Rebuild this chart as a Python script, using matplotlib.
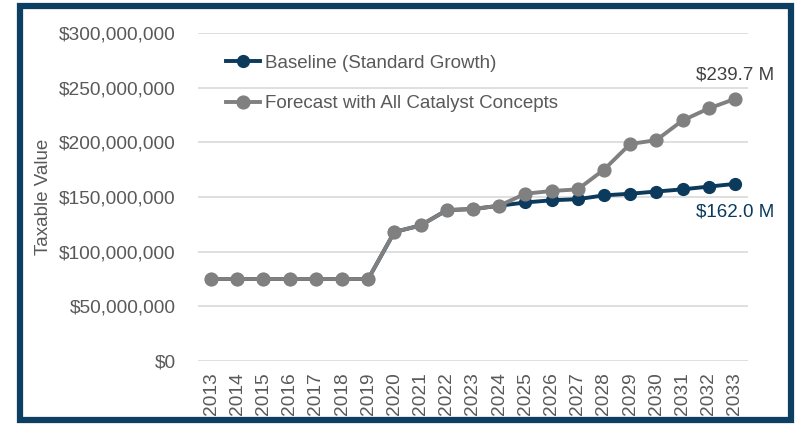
import matplotlib
matplotlib.use("Agg")
import matplotlib.pyplot as plt
from matplotlib.patches import Rectangle
from matplotlib.ticker import FuncFormatter

years = [str(y) for y in range(2013, 2034)]
baseline = [75, 75, 75, 75, 75, 75, 75, 118, 124, 138, 139, 142,
            145, 147, 148, 151.5, 153, 155, 157, 159.5, 162.0]
forecast = [75, 75, 75, 75, 75, 75, 75, 118, 124, 138, 139, 142,
            153, 155.5, 157, 175, 198.5, 202, 220, 231, 239.7]
yticks = [0, 50, 100, 150, 200, 250, 300]

navy = "#0b3a5c"
gray = "#808080"
textc = "#595959"

plt.rcParams['font.family'] = ['Liberation Sans', 'DejaVu Sans']

fig = plt.figure(figsize=(7.96, 4.26), dpi=100)
ax = fig.add_axes([0.2487, 0.1526, 0.691, 0.7699])

x = list(range(len(years)))
ax.plot(x, [v * 1e6 for v in baseline], color=navy, lw=2.8, marker='o',
        markersize=8.5, label='Baseline (Standard Growth)', zorder=3)
ax.plot(x, [v * 1e6 for v in forecast], color=gray, lw=2.8, marker='o',
        markersize=9.2, label='Forecast with All Catalyst Concepts', zorder=4)

ax.set_xlim(-0.5, len(years) - 0.5)
ax.set_ylim(0, 300e6)
ax.set_yticks([v * 1e6 for v in yticks])
ax.yaxis.set_major_formatter(FuncFormatter(lambda v, p: "${:,.0f}".format(v)))
ax.set_xticks(x)
ax.set_xticklabels(years, rotation=90)
ax.tick_params(axis='both', length=0, labelsize=13.8, colors=textc)
ax.tick_params(axis='y', pad=16)
ax.tick_params(axis='x', pad=8)
ax.grid(axis='y', color='#d9d9d9', lw=1.2)
ax.set_axisbelow(True)
for s in ax.spines.values():
    s.set_visible(False)

ax.set_ylabel('Taxable Value', fontsize=13.5, color=textc, labelpad=5)

leg = ax.legend(loc='upper left', bbox_to_anchor=(0.02, 0.985), frameon=False,
                fontsize=13.5, handlelength=1.8, handletextpad=0.3,
                labelspacing=1.25, labelcolor=textc)

ax.annotate("$239.7 M", xy=(x[-1], forecast[-1] * 1e6), xytext=(0, 11),
            textcoords='offset points', ha='center', va='bottom',
            fontsize=13.5, color='#404040')
ax.annotate("$162.0 M", xy=(x[-1], baseline[-1] * 1e6), xytext=(0, -14),
            textcoords='offset points', ha='center', va='top',
            fontsize=13.5, color=navy)

fig.patches.append(Rectangle((19.5 / 796, 6 / 426), 771 / 796, 414 / 426,
                             transform=fig.transFigure, fill=False,
                             edgecolor='#0d3f63', lw=4.5, zorder=10))

fig.savefig("out.png", dpi=100)
